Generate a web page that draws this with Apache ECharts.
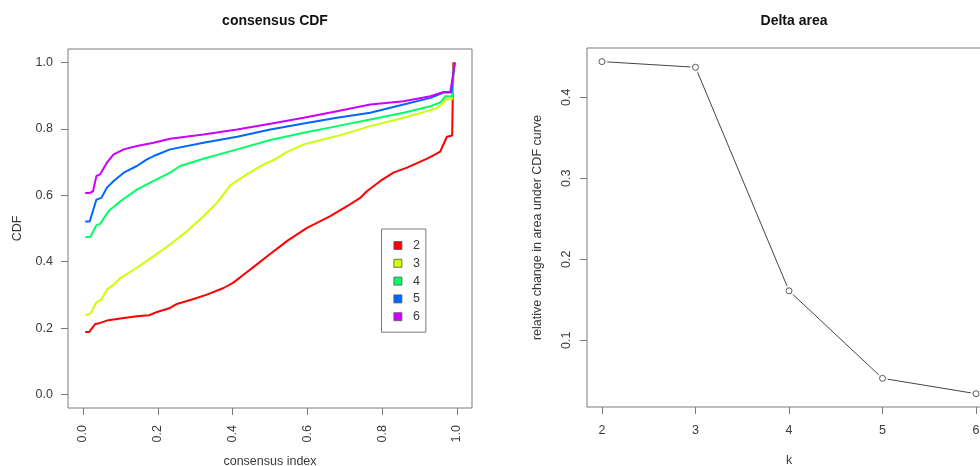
<!DOCTYPE html>
<html>
<head>
<meta charset="utf-8">
<title>consensus CDF / Delta area</title>
<script src="https://cdn.jsdelivr.net/npm/echarts@6/dist/echarts.min.js"></script>
<style>
  html, body { margin: 0; padding: 0; background: #fff; }
  #chart { width: 980px; height: 466px; }
</style>
</head>
<body>
<div id="chart"></div>
<script>
// Empirical CDF of consensus values for each cluster count k
const k2Index = [0.006,0.017,0.033,0.046,0.064,0.1,0.144,0.177,0.198,0.233,0.251,0.296,0.331,0.376,0.403,0.429,0.465,0.501,0.528,0.545,0.599,0.661,0.706,0.741,0.759,0.795,0.830,0.866,0.920,0.937,0.955,0.973,0.987,0.990];
const k2Cdf   = [0.189,0.189,0.213,0.216,0.223,0.229,0.236,0.239,0.249,0.261,0.273,0.288,0.301,0.321,0.338,0.361,0.392,0.424,0.447,0.462,0.502,0.537,0.567,0.592,0.612,0.643,0.668,0.683,0.710,0.720,0.731,0.776,0.780,1.0];

const k3Index = [0.006,0.020,0.036,0.049,0.064,0.082,0.1,0.144,0.189,0.233,0.278,0.322,0.358,0.394,0.438,0.483,0.510,0.545,0.590,0.679,0.768,0.857,0.920,0.947,0.960,0.969,0.987,0.992];
const k3Cdf   = [0.239,0.244,0.278,0.286,0.316,0.331,0.351,0.382,0.417,0.452,0.492,0.537,0.577,0.630,0.663,0.693,0.706,0.730,0.753,0.778,0.808,0.833,0.853,0.863,0.873,0.889,0.889,1.0];

const k4Index = [0.006,0.020,0.036,0.046,0.068,0.1,0.144,0.189,0.233,0.260,0.322,0.412,0.501,0.590,0.679,0.768,0.857,0.929,0.955,0.969,0.987,0.992];
const k4Cdf   = [0.474,0.475,0.510,0.514,0.552,0.582,0.617,0.643,0.668,0.688,0.710,0.738,0.766,0.788,0.808,0.828,0.848,0.868,0.879,0.898,0.898,1.0];

const k5Index = [0.006,0.018,0.036,0.049,0.064,0.082,0.109,0.144,0.171,0.189,0.233,0.322,0.412,0.501,0.590,0.679,0.768,0.857,0.929,0.964,0.985,0.993];
const k5Cdf   = [0.521,0.521,0.587,0.592,0.623,0.643,0.668,0.688,0.708,0.718,0.738,0.758,0.776,0.798,0.816,0.833,0.848,0.873,0.893,0.909,0.909,1.0];

const k6Index = [0.006,0.018,0.027,0.036,0.046,0.064,0.082,0.109,0.144,0.189,0.233,0.322,0.412,0.501,0.590,0.679,0.768,0.857,0.929,0.964,0.982,0.995];
const k6Cdf   = [0.607,0.607,0.612,0.658,0.663,0.698,0.723,0.738,0.748,0.758,0.770,0.783,0.798,0.815,0.833,0.853,0.873,0.883,0.898,0.911,0.911,1.0];

const clusterCounts = ['2', '3', '4', '5', '6'];
const rainbow = ['#FF0000', '#CCFF00', '#00FF66', '#0066FF', '#CC00FF'];

// Relative change in area under the CDF curve per k
const deltaK = [2, 3, 4, 5, 6];
const deltaArea = [0.444, 0.437, 0.161, 0.053, 0.034];

// Tick positions
const cdfTicks = [0, 0.2, 0.4, 0.6, 0.8, 1.0];
const kTicks = [2, 3, 4, 5, 6];
const deltaTicks = [0.1, 0.2, 0.3, 0.4];

const FONT = 'Liberation Sans, Arial, Helvetica, sans-serif';
const INK = '#3a3a3a';
const FRAME = '#7a7a7a';

const zip = (xs, ys) => xs.map((x, i) => [x, ys[i]]);
const cdfSets = [[k2Index, k2Cdf], [k3Index, k3Cdf], [k4Index, k4Cdf], [k5Index, k5Cdf], [k6Index, k6Cdf]];

function valueAxis(ticks, labelOpts, extra) {
  return Object.assign({
    type: 'value',
    splitLine: { show: false },
    axisLine: { show: false, onZero: false },
    axisTick: { show: true, length: 7, inside: false, lineStyle: { color: FRAME, width: 1 }, customValues: ticks },
    axisLabel: Object.assign({ color: INK, fontFamily: FONT, fontSize: 12.5, customValues: ticks }, labelOpts),
    nameLocation: 'middle',
    nameTextStyle: { color: INK, fontFamily: FONT, fontSize: 12.5 }
  }, extra);
}

const chart = echarts.init(document.getElementById('chart'), null, { renderer: 'canvas' });

const cdfSeries = cdfSets.map((set, i) => ({
  name: clusterCounts[i],
  type: 'line',
  xAxisIndex: 0,
  yAxisIndex: 0,
  data: zip(set[0], set[1]),
  showSymbol: false,
  symbol: 'none',
  lineStyle: { color: rainbow[i], width: 2 },
  itemStyle: { color: rainbow[i], borderColor: '#555', borderWidth: 0.8 },
  z: 2 + i
}));

const deltaPoints = zip(deltaK, deltaArea);

const option = {
  backgroundColor: '#fff',
  animation: false,
  title: [
    {
      text: 'consensus CDF', left: 270, top: 9, textAlign: 'center',
      textStyle: { fontFamily: FONT, fontSize: 14, fontWeight: 'bold', color: '#111' }
    },
    {
      text: 'Delta area', left: 789, top: 9, textAlign: 'center',
      textStyle: { fontFamily: FONT, fontSize: 14, fontWeight: 'bold', color: '#111' }
    }
  ],
  legend: {
    data: clusterCounts,
    orient: 'vertical',
    left: 381.5,
    top: 229,
    icon: 'rect',
    itemWidth: 8,
    itemHeight: 8,
    itemGap: 4.8,
    padding: [10, 6, 9, 12],
    borderColor: FRAME,
    borderWidth: 1,
    backgroundColor: '#fff',
    itemStyle: { borderColor: '#555', borderWidth: 0.8 },
    textStyle: { color: INK, fontFamily: FONT, fontSize: 12.5, lineHeight: 10, padding: [0, 0, 0, 6] },
    selectedMode: false
  },
  grid: [
    { left: 68, top: 49, width: 404, height: 359, show: true, borderColor: FRAME, borderWidth: 1,
      backgroundColor: 'transparent', containLabel: false, outerBoundsMode: 'none' },
    { left: 587, top: 48, width: 404, height: 359, show: true, borderColor: FRAME, borderWidth: 1,
      backgroundColor: 'transparent', containLabel: false, outerBoundsMode: 'none' }
  ],
  xAxis: [
    valueAxis(cdfTicks, { rotate: 90, margin: 17, formatter: v => v.toFixed(1) },
      { gridIndex: 0, min: -0.04, max: 1.04, name: 'consensus index', nameGap: 47 }),
    valueAxis(kTicks, { margin: 17, formatter: v => String(Math.round(v)) },
      { gridIndex: 1, min: 1.84, max: 6.16, name: 'k', nameGap: 47 })
  ],
  yAxis: [
    valueAxis(cdfTicks, { margin: 15, formatter: v => v.toFixed(1) },
      { gridIndex: 0, min: -0.04, max: 1.04, name: 'CDF', nameGap: 44 }),
    valueAxis(deltaTicks, { rotate: 90, margin: 14, formatter: v => v.toFixed(1) },
      { gridIndex: 1, min: 0.0176, max: 0.4608, name: 'relative change in area under CDF curve', nameGap: 43 })
  ],
  series: cdfSeries.concat([
    {
      name: 'delta line',
      type: 'line',
      xAxisIndex: 1, yAxisIndex: 1,
      data: deltaPoints,
      showSymbol: false,
      symbol: 'none',
      lineStyle: { color: '#444', width: 1 },
      z: 2
    },
    {
      // white halo leaves a small gap between segments and the point markers
      name: 'delta gap',
      type: 'scatter',
      xAxisIndex: 1, yAxisIndex: 1,
      data: deltaPoints,
      symbol: 'circle',
      symbolSize: 11,
      itemStyle: { color: '#fff', borderWidth: 0 },
      z: 3
    },
    {
      name: 'delta points',
      type: 'scatter',
      xAxisIndex: 1, yAxisIndex: 1,
      data: deltaPoints,
      symbol: 'circle',
      symbolSize: 6,
      itemStyle: { color: '#fff', borderColor: '#333', borderWidth: 1 },
      z: 4
    }
  ])
};

chart.setOption(option);
</script>
</body>
</html>
